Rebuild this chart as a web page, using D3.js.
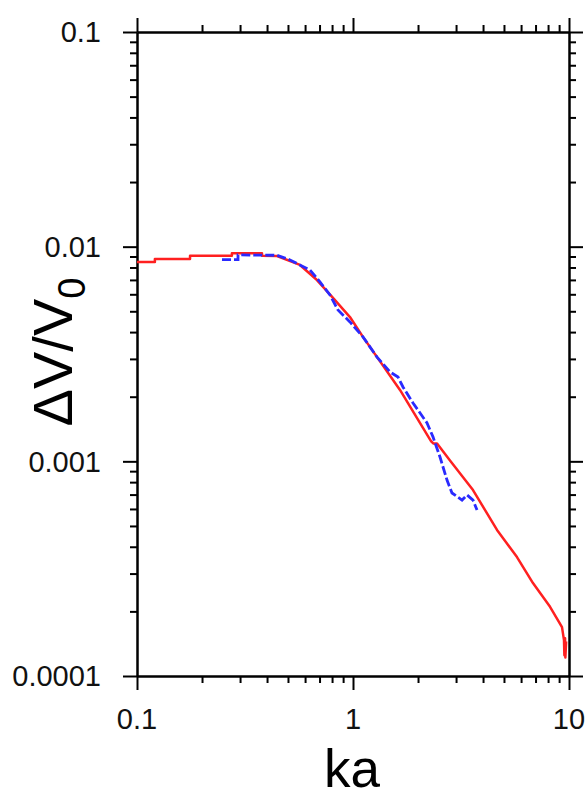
<!DOCTYPE html>
<html>
<head>
<meta charset="utf-8">
<script src="https://cdn.jsdelivr.net/npm/d3@7"></script>
<style>
  html, body { margin: 0; padding: 0; background: #fff; }
  svg { display: block; }
</style>
</head>
<body>
<svg id="chart" width="587" height="798"></svg>
<script>
// ---- data ----
const xMajorTicks = [0.1, 1, 10];
const xTickLabels = ["0.1", "1", "10"];
const yMajorTicks = [0.1, 0.01, 0.001, 0.0001];
const yTickLabels = ["0.1", "0.01", "0.001", "0.0001"];

// red curve (solid)
const redKa = [0.1, 0.121, 0.121, 0.176, 0.176, 0.275, 0.275, 0.379, 0.379, 0.445, 0.568, 0.681, 0.808, 0.968, 1.112, 1.65, 2.3, 2.36, 2.45, 2.812, 3.594, 4.642, 5.743, 6.81, 8.17, 9.28, 9.48, 9.52, 9.59, 9.62, 9.70];
const redV  = [0.00848, 0.00848, 0.00876, 0.00876, 0.00908, 0.00908, 0.00931, 0.00931, 0.00908, 0.00905, 0.00822, 0.00699, 0.00577, 0.00470, 0.00380, 0.00215, 0.00124, 0.00121, 0.00121, 0.00101, 0.000735, 0.000479, 0.000358, 0.000271, 0.000210, 0.000169, 0.000147, 0.000125, 0.000150, 0.000122, 0.000145];

// blue curve (dashed)
const blueKa = [0.2474, 0.2935, 0.2935, 0.445, 0.511, 0.632, 0.703, 0.782, 0.852, 0.968, 1.112, 1.292, 1.483, 1.616, 1.704, 1.896, 2.201, 2.346, 2.528, 2.724, 2.873, 3.197, 3.372, 3.594, 3.751];
const blueV  = [0.00870, 0.00870, 0.00915, 0.00912, 0.00867, 0.00779, 0.00685, 0.00596, 0.00507, 0.00446, 0.00380, 0.00306, 0.00261, 0.00247, 0.00222, 0.00187, 0.00151, 0.00130, 0.001047, 0.000818, 0.000712, 0.000660, 0.000697, 0.000660, 0.000593];

// ---- layout ----
const svg = d3.select("#chart");
const L = 137, R = 569, T = 32, B = 676;

const x = d3.scaleLog().domain([0.1, 10]).range([L, R]);
const y = d3.scaleLog().domain([0.0001, 0.1]).range([B, T]);

function minorTicks(lo, hi) {
  const out = [];
  for (let d = lo; d < hi * 0.999; d *= 10) {
    for (let k = 2; k <= 9; k++) out.push(d * k);
  }
  return out;
}
const xMinor = minorTicks(0.1, 10);
const yMinor = minorTicks(0.0001, 0.1);

function styleAxis(g) {
  g.selectAll("path.domain").attr("stroke", "#000").attr("stroke-width", 2);
  g.selectAll(".tick line").attr("stroke", "#000").attr("stroke-width", 2);
  g.selectAll(".tick text").remove();
}

// axes: minor + major on all four sides
const axes = [
  { gen: d3.axisBottom, scale: x, tr: `translate(0,${B})`, minor: xMinor, major: xMajorTicks },
  { gen: d3.axisTop, scale: x, tr: `translate(0,${T})`, minor: xMinor, major: xMajorTicks },
  { gen: d3.axisLeft, scale: y, tr: `translate(${L},0)`, minor: yMinor, major: yMajorTicks },
  { gen: d3.axisRight, scale: y, tr: `translate(${R},0)`, minor: yMinor, major: yMajorTicks },
];
axes.forEach(a => {
  svg.append("g").attr("transform", a.tr)
    .call(a.gen(a.scale).tickValues(a.minor).tickSize(7).tickSizeOuter(0).tickFormat(""))
    .call(styleAxis);
  svg.append("g").attr("transform", a.tr)
    .call(a.gen(a.scale).tickValues(a.major).tickSize(14).tickSizeOuter(0).tickFormat(""))
    .call(styleAxis);
});

// tick labels
const fontTick = "'Liberation Sans', Arial, sans-serif";
svg.append("g").selectAll("text").data(yMajorTicks).join("text")
  .attr("x", 101).attr("y", d => y(d))
  .attr("dy", "0.36em")
  .attr("text-anchor", "end")
  .attr("font-family", fontTick).attr("font-size", 29)
  .attr("fill", "#111")
  .text((d, i) => yTickLabels[i]);

svg.append("g").selectAll("text").data(xMajorTicks).join("text")
  .attr("x", d => x(d)).attr("y", 729)
  .attr("text-anchor", "middle")
  .attr("font-family", fontTick).attr("font-size", 29)
  .attr("fill", "#111")
  .text((d, i) => xTickLabels[i]);

// axis titles
svg.append("text")
  .attr("x", 352).attr("y", 787)
  .attr("text-anchor", "middle")
  .attr("font-family", fontTick).attr("font-size", 53)
  .attr("fill", "#000")
  .text("ka");

const yl = svg.append("text")
  .attr("transform", "translate(72,352) rotate(-90)")
  .attr("text-anchor", "middle")
  .attr("font-family", fontTick).attr("font-size", 56)
  .attr("fill", "#000");
yl.append("tspan").text("\u0394V/V");
yl.append("tspan").attr("font-size", 38).attr("dy", 13).text("0");

// curves
const line = d3.line().x(d => x(d[0])).y(d => y(d[1]));

svg.append("path")
  .datum(redKa.map((k, i) => [k, redV[i]]))
  .attr("d", line)
  .attr("fill", "none")
  .attr("stroke", "#ff2020")
  .attr("stroke-width", 2.5)
  .attr("stroke-linejoin", "round");

svg.append("path")
  .datum(blueKa.map((k, i) => [k, blueV[i]]))
  .attr("d", line)
  .attr("fill", "none")
  .attr("stroke", "#2a2aff")
  .attr("stroke-width", 2.8)
  .attr("stroke-dasharray", "9,3");
</script>
</body>
</html>
